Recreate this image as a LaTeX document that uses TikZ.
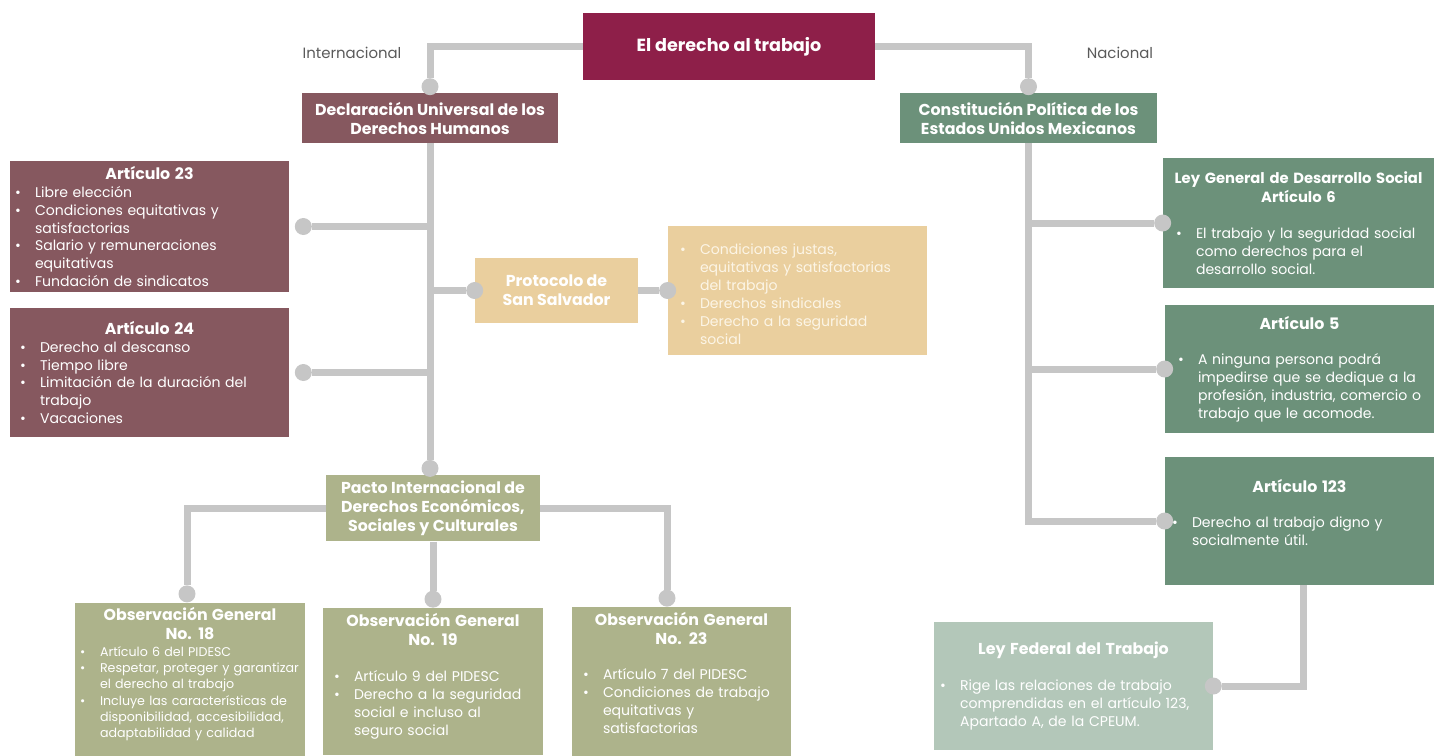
\documentclass[tikz,border=0pt]{standalone}
\usepackage{fontspec}
\setmainfont{Poppins}
\usepackage{xcolor}
\usepackage{tikz}
\definecolor{vino}{HTML}{8E1F49}
\definecolor{malva}{HTML}{86585F}
\definecolor{verde}{HTML}{6C917A}
\definecolor{verdeclaro}{HTML}{B3C7B9}
\definecolor{olivo}{HTML}{ADB38B}
\definecolor{arena}{HTML}{EACF9E}
\definecolor{gris}{HTML}{C6C6C6}
\definecolor{textogris}{HTML}{5A5A5A}
\definecolor{crema}{HTML}{FCF5E6}
\usetikzlibrary{arrows.meta, positioning}

\hyphenpenalty=10000
\exhyphenpenalty=10000
\newlength{\balaoff}
\newcommand{\titcaja}[2][9]{{\centering\bfseries\fontsize{#1}{10.8}\selectfont #2\par}}
\newcommand{\punto}[1]{\par\leftskip=\balaoff\hangindent=0.4cm\hangafter=1\noindent\makebox[0.4cm][l]{\textbullet}#1\par}

\begin{document}
\begin{tikzpicture}[
    x=0.02cm, y=-0.02cm,
    titulo/.style={rectangle, fill=vino, text=white, font=\bfseries\fontsize{10}{12}\selectfont, minimum width=5.84cm, minimum height=1.34cm},
    encabezado/.style={rectangle, text=white, align=center, font=\bfseries\fontsize{9}{10.8}\selectfont, minimum height=1cm},
    caja/.style={rectangle, text=white, inner xsep=0.1cm, inner ysep=0.1cm, align=left, font=\fontsize{8}{10.2}\selectfont, minimum height=2.58cm},
    bala/.code={\global\balaoff=#1\relax},
    etiqueta/.style={text=textogris, font=\fontsize{8.5}{10}\selectfont},
    rama/.style={draw=gris, line width=0.14cm},
    conector/.style={rama, -{Circle[length=0.34cm, width=0.34cm, line width=0pt]}, shorten >=-0.17cm}
]
    \useasboundingbox (0,0) rectangle (1434,755);

    % Titulo
    \node[titulo] (titulo) at (729,46.5) {El derecho al trabajo};
    \node[etiqueta] (intl) at (352,53) {Internacional};
    \node[etiqueta] (nac) at (1120,53) {Nacional};

    % Internacional
    \node[encabezado, fill=malva, minimum width=5.12cm] (dudh) at (430,118) {Declaración Universal de los\\Derechos Humanos};
    \node[caja, fill=malva, minimum width=5.58cm, text width=5.38cm, bala=0cm] (art23) at (149.5,226.5) {%
        \titcaja{Artículo 23}
        \punto{Libre elección}
        \punto{Condiciones equitativas y\newline satisfactorias}
        \punto{Salario y remuneraciones\newline equitativas}
        \punto{Fundación de sindicatos}};
    \node[caja, fill=malva, minimum width=5.58cm, text width=5.38cm, bala=0.1cm] (art24) at (149.5,372.5) {%
        \titcaja{Artículo 24}
        \punto{Derecho al descanso}
        \punto{Tiempo libre}
        \punto{Limitación de la duración del\newline trabajo}
        \punto{Vacaciones}};
    \node[encabezado, fill=arena, minimum width=3.26cm, minimum height=1.3cm] (protocolo) at (556.5,290.5) {Protocolo de\\San Salvador};
    \node[caja, fill=arena, text=crema, minimum width=5.18cm, text width=4.98cm, bala=0.14cm] (protlista) at (797.5,290.5) {%
        \punto{Condiciones justas,\newline equitativas y satisfactorias\newline del trabajo}
        \punto{Derechos sindicales}
        \punto{Derecho a la seguridad\newline social}};
    \node[encabezado, fill=olivo, minimum width=4.28cm, minimum height=1.28cm] (pacto) at (433,508) {Pacto Internacional de\\Derechos Económicos,\\Sociales y Culturales};
    \node[caja, fill=olivo, minimum width=4.6cm, minimum height=2.94cm, text width=4.52cm, inner xsep=0.04cm, bala=0.06cm, font=\fontsize{7.2}{9.3}\selectfont] (obs18) at (190,681.5) {%
        \titcaja{Observación General\\No. 18}
        \punto{Artículo 6 del PIDESC}
        \punto{Respetar, proteger y garantizar\newline el derecho al trabajo}
        \punto{Incluye las características de\newline disponibilidad, accesibilidad,\newline adaptabilidad y calidad}\vspace{8pt}};
    \node[caja, fill=olivo, minimum width=4.4cm, minimum height=2.94cm, text width=4.2cm, bala=0.12cm] (obs19) at (433,681.5) {%
        \titcaja{Observación General\\No. 19}\vspace{10pt}
        \punto{Artículo 9 del PIDESC}
        \punto{Derecho a la seguridad\newline social e incluso al\newline seguro social}\vspace{6pt}};
    \node[caja, fill=olivo, minimum width=4.38cm, minimum height=2.94cm, text width=4.18cm, bala=0.12cm] (obs23) at (681.5,681.5) {%
        \titcaja{Observación General\\No. 23}\vspace{10pt}
        \punto{Artículo 7 del PIDESC}
        \punto{Condiciones de trabajo\newline equitativas y\newline satisfactorias}\vspace{10pt}};

    % Nacional
    \node[encabezado, fill=verde, minimum width=5.14cm] (cpeum) at (1028.5,118) {Constitución Política de los\\Estados Unidos Mexicanos};
    \node[caja, fill=verde, minimum width=5.42cm, minimum height=2.6cm, text width=5.34cm, inner xsep=0.04cm, bala=0.22cm] (lgds) at (1298.5,223) {%
        \titcaja[8.4]{Ley General de Desarrollo Social\\Artículo 6}\vspace{10pt}
        \punto{El trabajo y la seguridad social\newline como derechos para el\newline desarrollo social.}};
    \node[caja, fill=verde, minimum width=5.38cm, minimum height=2.56cm, text width=5.18cm, bala=0.16cm] (art5) at (1299.5,369) {%
        \titcaja{Artículo 5}\vspace{10pt}
        \punto{A ninguna persona podrá\newline impedirse que se dedique a la\newline profesión, industria, comercio o\newline trabajo que le acomode.}};
    \node[caja, fill=verde, minimum width=5.38cm, minimum height=2.56cm, text width=5.18cm, bala=0.04cm] (art123) at (1299.5,521) {%
        \titcaja{Artículo 123}\vspace{10pt}
        \punto{Derecho al trabajo digno y\newline socialmente útil.}\vspace{10pt}};
    \node[caja, fill=verdeclaro, minimum width=5.58cm, minimum height=2.56cm, text width=5.38cm, bala=0.02cm] (lft) at (1073.5,686) {%
        \titcaja{Ley Federal del Trabajo}\vspace{10pt}
        \punto{Rige las relaciones de trabajo\newline comprendidas en el artículo 123,\newline Apartado A, de la CPEUM.}};

    % Conectores internacional
    \draw[conector, shorten >=-0.05cm] (titulo.west) -| (dudh.north);
    \draw[conector, shorten >=-0.05cm] (dudh.south) -- (dudh.south |- pacto.north);
    \draw[conector, shorten >=0.11cm] (dudh.south |- art23.east) -- (art23.east);
    \draw[conector, shorten >=0.11cm] (dudh.south |- art24.east) -- (art24.east);
    \draw[conector] (dudh.south |- protocolo.west) -- (protocolo.west);
    \draw[conector] (protocolo.east) -- (protlista.west);
    \draw[conector, shorten >=0cm] (pacto.west) -| ([xshift=-0.06cm]obs18.north);
    \draw[conector, shorten >=0cm] (pacto.south) -- (obs19.north);
    \draw[conector, shorten >=0cm] (pacto.east) -| ([xshift=-0.29cm]obs23.north);

    % Conectores nacional
    \draw[conector, shorten >=-0.05cm] (titulo.east) -| (cpeum.north);
    \draw[conector] (cpeum.south) |- (art123.west);
    \draw[conector] (cpeum.south |- lgds.west) -- (lgds.west);
    \draw[conector] (cpeum.south |- art5.west) -- (art5.west);
    \draw[conector] ([xshift=0.07cm]art123.south) |- (lft.east);
\end{tikzpicture}
\end{document}
